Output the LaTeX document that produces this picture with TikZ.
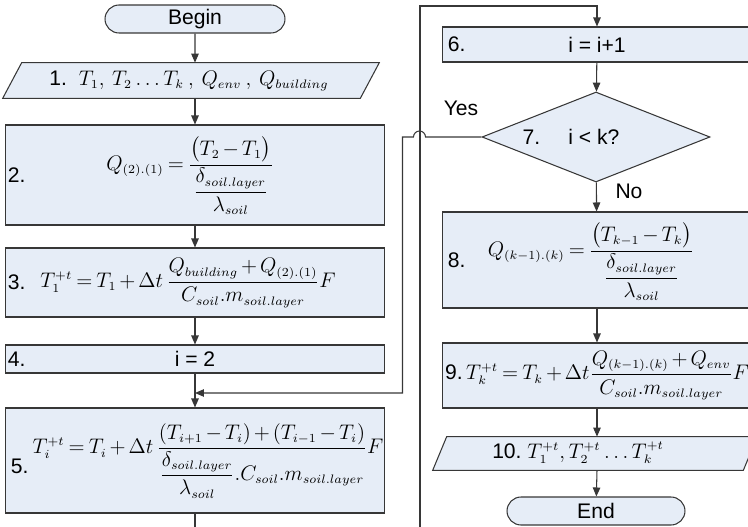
\documentclass[tikz,border=0pt]{standalone}
\usepackage{amsmath}
\usepackage{fontspec}
\setmainfont{Liberation Sans}
\DeclareMathSizes{12}{12}{7}{5}
\thickmuskip=3.5mu plus 2mu
\medmuskip=2.5mu plus 1mu
\usetikzlibrary{shapes.geometric, shapes.misc, arrows.meta}
\definecolor{boxblue}{RGB}{230,237,247}
\definecolor{linegray}{RGB}{55,55,55}

\begin{document}
\begin{tikzpicture}[
        x=0.02cm, y=-0.02cm,
        font=\fontsize{12}{14}\selectfont,
        terminal_node/.style={rounded rectangle, draw=linegray, fill=boxblue, line width=0.6pt, minimum width=3.6cm, minimum height=0.56cm, inner sep=0pt},
        process_left/.style={rectangle, draw=linegray, fill=boxblue, line width=0.6pt, minimum width=7.6cm, inner sep=0pt},
        process_right/.style={process_left, minimum width=6.2cm},
        io_body/.style={rectangle, inner sep=0pt},
        io_shape/.style={draw=linegray, fill=boxblue, line width=0.6pt},
        decision_node/.style={diamond, draw=linegray, fill=boxblue, line width=0.6pt, minimum width=4.56cm, minimum height=1.8cm, inner sep=0pt},
        step_label/.style={anchor=west, inner sep=0pt},
        formula/.style={inner sep=0pt},
        flow_line/.style={draw=linegray, line width=0.6pt},
        flow_arrow/.style={flow_line, -{Triangle[length=1.8mm, width=1.5mm]}}
    ]
        \path[use as bounding box] (0,0) rectangle (748,527);
        \clip (0,0) rectangle (748,527);

        % Left column
        \node[terminal_node] (begin) at (195,19) {Begin};

        \node[io_body, minimum width=7.52cm, minimum height=0.7cm] (in1) at (191,80.5) {};
        \draw[io_shape] (in1.south west) -- ([xshift=0.38cm]in1.north west) -- (in1.north east) -- ([xshift=-0.38cm]in1.south east) -- cycle;
        \node[formula] (t1) at (189,81) {1.~~$T_1,\;T_2\ldots T_k\;,\;Q_{env}\;,\;Q_{building}$};

        \node[process_left, minimum height=2cm] (b2) at (195,175) {};
        \node[step_label] (n2) at ([xshift=0.06cm]b2.west) {2.};
        \node[formula] (f2) at (190,176) {$Q_{(2).(1)}=\dfrac{\bigl(T_2-T_1\bigr)}{\dfrac{\delta_{soil.layer}}{\lambda_{soil}}}$};

        \node[process_left, minimum height=1.38cm] (b3) at (195,282.5) {};
        \node[step_label] (n3) at ([xshift=0.06cm]b3.west) {3.};
        \node[formula] (f3) at (188,283) {$T_1^{+t}=T_1+\Delta t\,\dfrac{Q_{building}+Q_{(2).(1)}}{C_{soil}.m_{soil.layer}}F$};

        \node[process_left, minimum height=0.56cm] (b4) at (195,359) {i = 2};
        \node[step_label] (n4) at ([xshift=0.06cm]b4.west) {4.};

        \node[process_left, minimum height=2.1cm] (b5) at (195,460.5) {};
        \node[step_label] (n5) at ([xshift=0.12cm, yshift=-0.12cm]b5.west) {5.};
        \node[formula] (f5) at (208,461) {$T_i^{+t}=T_i+\Delta t\,\dfrac{(T_{i+1}-T_i)+(T_{i-1}-T_i)}{\dfrac{\delta_{soil.layer}}{\lambda_{soil}}.C_{soil}.m_{soil.layer}}F$};

        % Right column
        \node[process_right, minimum height=0.7cm] (b6) at (597,44.5) {i = i+1};
        \node[step_label] (n6) at ([xshift=0.12cm]b6.west) {6.};

        \node[decision_node] (d7) at (596,137) {};
        \node (t7) at (571,137) {7.\hspace{16pt}i < k?};
        \node (yes) at (461,108) {Yes};
        \node (no) at (629,191) {No};

        \node[process_right, minimum height=1.92cm] (b8) at (597,260) {};
        \node[step_label] (n8) at ([xshift=0.12cm]b8.west) {8.};
        \node[formula] (f8) at (591,262) {$Q_{(k-1).(k)}=\dfrac{\bigl(T_{k-1}-T_k\bigr)}{\dfrac{\delta_{soil.layer}}{\lambda_{soil}}}$};

        \node[process_right, minimum height=1.3cm] (b9) at (597,375.5) {9.\,$T_k^{+t}=T_k+\Delta t\dfrac{Q_{(k-1).(k)}+Q_{env}}{C_{soil}.m_{soil.layer}}F$};

        \node[io_body, minimum width=6.48cm, minimum height=0.66cm] (out10) at (595,453.5) {};
        \draw[io_shape] (out10.south west) -- ([xshift=0.28cm]out10.north west) -- (out10.north east) -- ([xshift=-0.28cm]out10.south east) -- cycle;
        \node[formula] (t10) at (578,453) {10.~$T_1^{+t},T_2^{+t}\ldots T_k^{+t}$};

        \node[terminal_node, minimum width=3.56cm] (end) at (596,511) {End};

        % Loose ends of the loop
        \coordinate (loop_join) at (195,393);
        \coordinate (down_exit) at (195,540);
        \coordinate (return_start) at (420,540);
        \coordinate (return_top) at (420,6);

        % Connectors
        \draw[flow_arrow] (begin) -- (begin |- in1.north);
        \draw[flow_arrow] (in1.south -| b2) -- (b2.north);
        \draw[flow_arrow] (b2) -- (b3);
        \draw[flow_arrow] (b3) -- (b4);
        \draw[flow_arrow] (b4) -- (b5);
        \draw[flow_line] (b5) -- (down_exit);
        \draw[flow_arrow] (return_start) -- (return_top) -| (b6.north);
        \draw[flow_arrow] (b6) -- (d7);
        \draw[flow_arrow] (d7.west) -- ++(-56,0) arc[start angle=0, end angle=180, radius=0.12cm] -- ++(-11,0) |- (loop_join);
        \draw[flow_arrow] (d7) -- (b8);
        \draw[flow_arrow] (b8) -- (b9);
        \draw[flow_arrow] (b9.south) -- (b9.south |- out10.north);
        \draw[flow_arrow] (b9.south |- out10.south) -- (end);
\end{tikzpicture}
\end{document}
